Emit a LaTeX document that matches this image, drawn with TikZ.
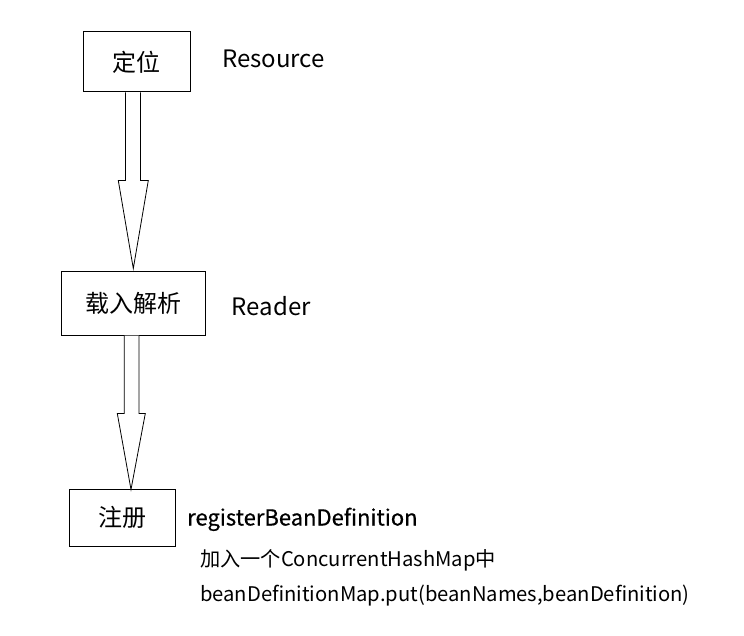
\documentclass[tikz,border=0pt]{standalone}
\usepackage{fontspec}
\setmainfont{Noto Sans CJK SC}
\usetikzlibrary{calc}
\tikzset{
  box/.style={draw, line width=1pt, inner sep=0pt, font=\fontsize{24}{28}\selectfont},
  lbl/.style={inner sep=0pt, anchor=base west},
  big/.style={font=\fontsize{24}{28}\selectfont},
  mid/.style={font=\fontsize{22}{26}\selectfont\addfontfeatures{FakeBold=0.6}},
  small/.style={font=\fontsize{20.2}{24}\selectfont},
  hollow/.style={draw, line width=0.8pt, fill=white, line join=miter}
}
\begin{document}
\begin{tikzpicture}[x=1pt,y=-1pt]
\useasboundingbox (0,0) rectangle (744,636);
\node[box, minimum width=107pt, minimum height=60pt] (b1) at (136.5,62) {定位};
\node[box, minimum width=143.5pt, minimum height=63pt] (b2) at (133.5,303.5) {载入解析};
\node[box, minimum width=106pt, minimum height=57pt] (b3) at (122,517.5) {注册};

\node[lbl, big] (t1) at (222,67.7) {Resource};
\node[lbl, big] (t2) at (231.5,315.7) {Reader};
\node[lbl, mid] (t3) at (187,525.5) {registerBeanDefinition};
\node[lbl, small] (t4) at (200,566.5) {加入一个ConcurrentHashMap中};
\node[lbl, small] (t5) at (200,601.5) {beanDefinitionMap.put(beanNames,beanDefinition)};

% arrow 1
\coordinate (a1s) at (b1.south -| 133,0);
\coordinate (a1t) at ($(b2.north -| 133.3,0)+(0,-3)$);
\draw[hollow] ($(a1s)+(-7.5,0)$) -- ($(a1s)+(-7.5,88)$) -- ($(a1s)+(-14.7,88)$) -- (a1t)
  -- ($(a1s)+(15.3,88)$) -- ($(a1s)+(7.5,88)$) -- ($(a1s)+(7.5,0)$);
% arrow 2
\coordinate (a2s) at (b2.south -| 131.7,0);
\coordinate (a2t) at ($(b3.north -| 131,0)+(0,1)$);
\draw[hollow] ($(a2s)+(-7.4,0)$) -- ($(a2s)+(-7.4,78)$) -- ($(a2s)+(-14.4,78)$) -- (a2t)
  -- ($(a2s)+(13.6,78)$) -- ($(a2s)+(7.3,78)$) -- ($(a2s)+(7.3,0)$);
\end{tikzpicture}
\end{document}
